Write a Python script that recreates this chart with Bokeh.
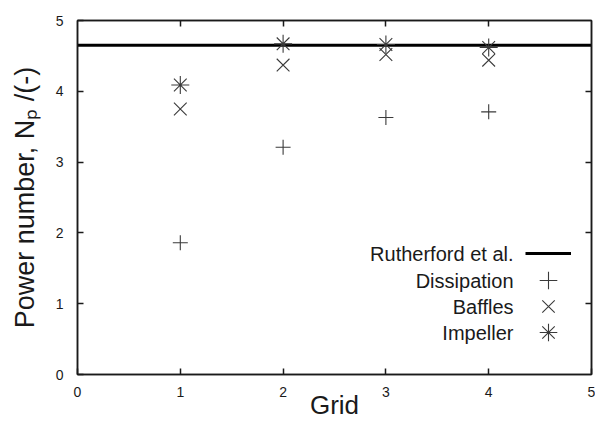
from bokeh.plotting import figure
from bokeh.models import LinearAxis, FixedTicker, Range1d, Legend, LegendItem, Label
from bokeh.embed import file_html
from bokeh.resources import INLINE

grid = [1, 2, 3, 4]
dissipation = [1.86, 3.21, 3.63, 3.71]
baffles = [3.75, 4.37, 4.52, 4.44]
impeller = [4.09, 4.67, 4.66, 4.62]
rutherford = 4.65
x_limits = [0, 5]
y_limits = [0, 5]
tick_values = [0, 1, 2, 3, 4, 5]
inner_ticks = [1, 2, 3, 4]
series_names = ["Rutherford et al.", "Dissipation", "Baffles", "Impeller"]

FONT = "Liberation Sans"
INK = "#1a1a1a"
MARK = "#3a3a3a"

p = figure(width=596, height=426, output_backend="svg", toolbar_location=None,
           x_range=Range1d(*x_limits), y_range=Range1d(*y_limits),
           min_border_left=77, min_border_right=4, min_border_top=20, min_border_bottom=52)
p.frame_width = 514
p.frame_height = 354
p.xgrid.visible = False
p.ygrid.visible = False
p.outline_line_color = INK
p.outline_line_width = 1.5
p.background_fill_color = "white"
p.border_fill_color = "white"

for ax in (p.xaxis[0], p.yaxis[0]):
    ax.ticker = FixedTicker(ticks=tick_values)
    ax.major_tick_in = 6
    ax.major_tick_out = 0
    ax.minor_tick_line_color = None
    ax.axis_line_color = INK
    ax.axis_line_width = 1.5
    ax.major_tick_line_color = INK
    ax.major_tick_line_width = 1.5
    ax.major_label_text_font = FONT
    ax.major_label_text_font_size = "14px"
    ax.major_label_text_color = INK
    ax.axis_label_text_font = FONT
    ax.axis_label_text_font_style = "normal"
    ax.axis_label_text_color = INK

p.xaxis[0].axis_label = "Grid"
p.xaxis[0].axis_label_text_font_size = "26px"
p.xaxis[0].major_label_standoff = 12
p.xaxis[0].axis_label_standoff = -10
p.yaxis[0].axis_label = "Power number, N\u209a /(-)"
p.yaxis[0].axis_label_text_font_size = "27px"
p.yaxis[0].major_label_standoff = 14
p.yaxis[0].axis_label_standoff = 13

blank = {t: "" for t in inner_ticks}
for loc in ("above", "right"):
    ax = LinearAxis(ticker=FixedTicker(ticks=inner_ticks), major_label_overrides=blank,
                    major_tick_in=6, major_tick_out=0, minor_tick_line_color=None,
                    major_label_standoff=0,
                    axis_line_color=INK, axis_line_width=1.5,
                    major_tick_line_color=INK, major_tick_line_width=1.5)
    p.add_layout(ax, loc)

r_line = p.line(x=x_limits, y=[rutherford, rutherford], line_color="black", line_width=3)
r_d = p.scatter(grid, dissipation, marker="cross", size=15, line_color=MARK, line_width=1.1)
r_b = p.scatter(grid, baffles, marker="x", size=18, line_color=MARK, line_width=1.1)
r_i = p.scatter(grid, impeller, marker="asterisk", size=18, line_color=MARK, line_width=1.1)
renderers = [r_line, r_d, r_b, r_i]

# legend: text right-aligned, glyph to its right (screen units, relative to frame)
row_center = [121, 94, 68, 42]
for name, rend, yc in zip(series_names, renderers, row_center):
    lg = Legend(items=[LegendItem(label=" ", renderers=[rend])], location=(448, yc - 22))
    lg.border_line_color = None
    lg.background_fill_alpha = 0
    lg.label_text_font_size = "2px"
    lg.label_width = 0
    lg.label_height = 0
    lg.label_standoff = 0
    lg.glyph_width = 46
    lg.glyph_height = 44
    lg.padding = 0
    lg.margin = 0
    lg.spacing = 0
    p.add_layout(lg)
    p.add_layout(Label(x=436, y=yc, x_units="screen", y_units="screen", text=name,
                       text_align="right", text_baseline="middle",
                       text_font=FONT, text_font_size="20px", text_color=INK))

open("out.html", "w").write(file_html(p, INLINE))
